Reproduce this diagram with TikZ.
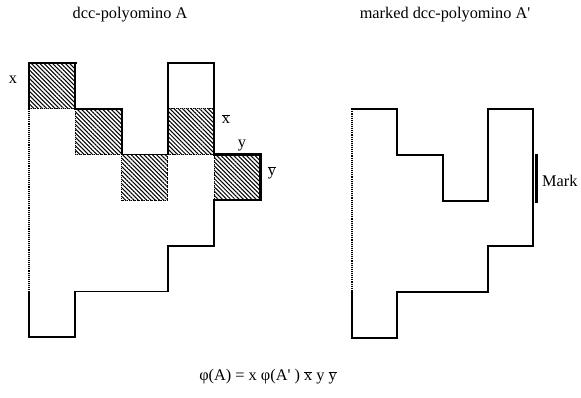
\documentclass[tikz,border=0pt]{standalone}
\usepackage{fontspec}
\setmainfont{Liberation Serif}
\usetikzlibrary{patterns.meta}
\newcommand{\ovl}[1]{$\overline{\mbox{#1}}$}
\begin{document}
\begin{tikzpicture}[x=1pt,y=-1pt,
  font=\fontsize{16.3}{19}\selectfont,
  outline/.style={line width=1.8pt, line join=miter, line cap=rect},
  boldedge/.style={line width=2.6pt, line join=miter, line cap=rect},
  thinedge/.style={line width=1.1pt, densely dotted},
  hatch/.style={pattern={Lines[angle=-45,distance=3pt,line width=1.05pt]}},
  cellborder/.style={line width=0.9pt, densely dotted},
  lbl/.style={inner sep=0pt, anchor=center}]
\useasboundingbox (0,0) rectangle (581,397);

% titles
\node[lbl] (t1) at (130,15) {dcc-polyomino A};
\node[lbl] (t2) at (445,15) {marked dcc-polyomino A\textquotesingle};

% left polyomino A
\begin{scope}[shift={(29pt,-63pt)}, x=46.3pt, y=-45.7pt]
  \foreach \c/\r in {0/0,1/1,2/2,3/1,4/2}{
    \path[hatch] (\c,\r) rectangle ++(1,1);
    \draw[cellborder] (\c,\r) rectangle ++(1,1);
  }
  \draw[outline] (0,1) -- (0,0) -- (1,0) -- (1,1) -- (2,1) -- (2,2) -- (3,2)
    -- (3,0) -- (4,0) -- (4,2) -- (5,2) -- (5,3) -- (4,3) -- (4,4) -- (3,4)
    -- (3,5) -- (1,5) -- (1,6) -- (0,6) -- (0,5);
  \draw[boldedge] (4,2) -- (5,2) -- (5,3) -- (4,3);
  \draw[boldedge] (0,1) -- (0,0) -- (1,0);
  \draw[thinedge] (0,1) -- (0,5);
\end{scope}

% labels of A
\node[lbl] (lx) at (13,80) {x};
\node[lbl] (lxb) at (226,119) {\ovl{x}};
\node[lbl] (ly) at (242,146) {y};
\node[lbl] (lyb) at (272,173) {\ovl{y}};

% right polyomino A'
\begin{scope}[shift={(352pt,-63.5pt)}, x=45.3pt, y=-45.7pt]
  \draw[outline] (0,1) -- (1,1) -- (1,2) -- (2,2) -- (2,3) -- (3,3) -- (3,1)
    -- (4,1) -- (4,4) -- (3,4) -- (3,5) -- (1,5) -- (1,6) -- (0,6) -- (0,5);
  \draw[thinedge] (0,1) -- (0,5);
\end{scope}

% mark
\coordinate (mt) at (536,154);
\coordinate (mb) at (536,203);
\draw[line width=3pt] (mt) -- (mb);
\node[inner sep=0pt, anchor=west] (mark) at (542,181) {Mark};

% formula
\node[lbl] (f) at (268,377) {φ(A) = x φ(A\textquotesingle\ ) \ovl{x} y \ovl{y}};
\end{tikzpicture}
\end{document}
